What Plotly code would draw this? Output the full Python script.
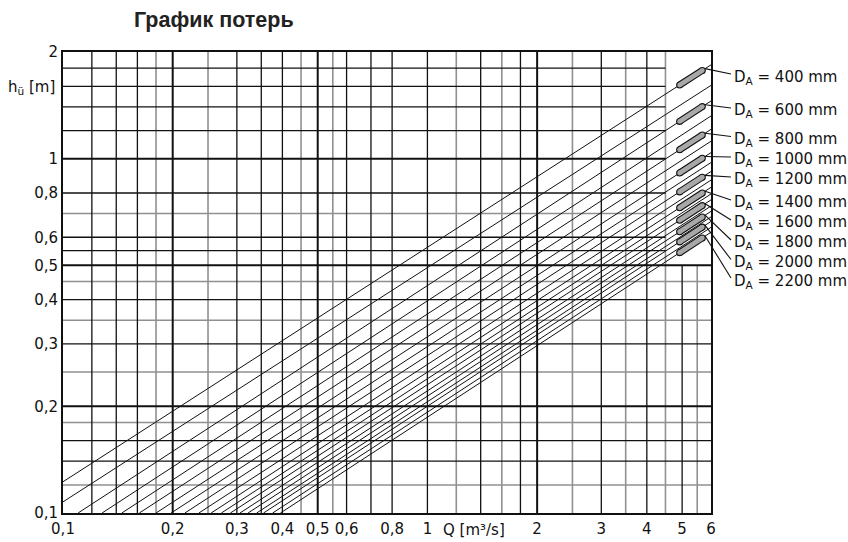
import math
import plotly.graph_objects as go

# ---- data -------------------------------------------------------------
# outlet diameters D_A [mm], one head line for every 100 mm
diameters = [400, 500, 600, 700, 800, 900, 1000, 1100, 1200, 1300,
             1400, 1500, 1600, 1700, 1800, 1900, 2000, 2100, 2200]
# diameters that carry a pipe symbol and a label
labelled = [400, 600, 800, 1000, 1200, 1400, 1600, 1800, 2000, 2200]
# each head line is straight on log-log paper: point where it enters the grid ...
q_start = [0.1, 0.1, 0.11, 0.128, 0.145, 0.162, 0.18, 0.198, 0.216, 0.236,
           0.255, 0.272, 0.288, 0.306, 0.322, 0.34, 0.355, 0.376, 0.395]
h_start = [0.1225, 0.1075, 0.1, 0.1, 0.1, 0.1, 0.1, 0.1, 0.1, 0.1,
           0.1, 0.1, 0.1, 0.1, 0.1, 0.1, 0.1, 0.1, 0.1]
# ... and where it leaves it at Q = 6 m3/s
q_end = [6] * 19
h_end = [1.84, 1.61, 1.455, 1.32, 1.21, 1.12, 1.04, 0.975, 0.92, 0.87,
         0.83, 0.795, 0.765, 0.735, 0.71, 0.685, 0.665, 0.64, 0.62]

# axis ticks
x_ticks = [0.1, 0.2, 0.3, 0.4, 0.5, 0.6, 0.8, 1, 2, 3, 4, 5, 6]
x_ticktext = ["0,1", "0,2", "0,3", "0,4", "0,5", "0,6", "0,8", "1", "2", "3", "4", "5", "6"]
y_ticks = [0.1, 0.2, 0.3, 0.4, 0.5, 0.6, 0.8, 1, 2]
y_ticktext = ["0,1", "0,2", "0,3", "0,4", "0,5", "0,6", "0,8", "1", "2"]

# grid of the log paper
v_grid_black = [0.12, 0.14, 0.16, 0.3, 0.35, 0.4, 0.6, 0.7, 0.8, 1, 1.4, 1.8, 3, 4]
v_grid_gray = [0.18, 0.25, 0.45, 0.55, 1.2, 1.6, 2.5, 3.5, 4.5]
v_grid_bold = [0.2, 0.5, 2]
v_grid_short_black = [5]      # only in the lower part
v_grid_short_gray = [5.5]
h_grid_black = [0.14, 0.16, 0.3, 0.4]
h_grid_gray = [0.12, 0.18, 0.25, 0.35, 0.45]
h_grid_bold = [0.2, 0.5]
h_grid_upper_black = [0.55, 0.6, 0.8, 1.2, 1.4, 1.6, 1.8]   # stop at Q = 4.5
h_grid_upper_gray = [0.7]
h_grid_upper_bold = [1]

Q_MIN, Q_MAX = 0.1, 6.0
H_MIN, H_MAX = 0.1, 2.0
Q_SPLIT, H_SPLIT = 4.5, 0.5

# ---- figure geometry --------------------------------------------------
W, H = 848, 542
L, R, T, B = 63, 137, 52, 29
PW, PH = W - L - R, H - T - B
LX0, LX1 = math.log10(Q_MIN), math.log10(Q_MAX)
LY0, LY1 = math.log10(H_MIN), math.log10(H_MAX)
FONT = "DejaVu Sans"


def px_x(px):
    return (px - L) / PW


def px_y(py):
    return (H - B - py) / PH


def paper_x(q):
    return (math.log10(q) - LX0) / (LX1 - LX0)


def paper_y(h):
    return (math.log10(h) - LY0) / (LY1 - LY0)


def on_line(i, q):
    """head of line i at flow q (straight line in log-log)"""
    lq0, lq1 = math.log10(q_start[i]), math.log10(q_end[i])
    lh0, lh1 = math.log10(h_start[i]), math.log10(h_end[i])
    t = (math.log10(q) - lq0) / (lq1 - lq0)
    return 10 ** (lh0 + t * (lh1 - lh0))


fig = go.Figure()


def add_segments(xs, ys, color, width):
    fig.add_trace(go.Scatter(x=xs, y=ys, mode="lines",
                             line=dict(color=color, width=width),
                             hoverinfo="skip", showlegend=False))


def vlines(vals, h0, h1):
    xs, ys = [], []
    for v in vals:
        xs += [v, v, None]
        ys += [h0, h1, None]
    return xs, ys


def hlines(vals, q0, q1):
    xs, ys = [], []
    for v in vals:
        xs += [q0, q1, None]
        ys += [v, v, None]
    return xs, ys


GRAY = "#909090"
BLACK = "#111111"

# gray grid lines first, black ones on top
add_segments(*vlines(v_grid_gray, H_MIN, H_MAX), GRAY, 1.6)
add_segments(*vlines(v_grid_short_gray, H_MIN, H_SPLIT), GRAY, 1.6)
add_segments(*hlines(h_grid_gray, Q_MIN, Q_MAX), GRAY, 1.6)
add_segments(*hlines(h_grid_upper_gray, Q_MIN, Q_SPLIT), GRAY, 1.6)

add_segments(*vlines(v_grid_black, H_MIN, H_MAX), BLACK, 1.3)
add_segments(*vlines(v_grid_short_black, H_MIN, H_SPLIT), BLACK, 1.3)
add_segments(*hlines(h_grid_black, Q_MIN, Q_MAX), BLACK, 1.3)
add_segments(*hlines(h_grid_upper_black, Q_MIN, Q_SPLIT), BLACK, 1.3)

add_segments(*vlines(v_grid_bold, H_MIN, H_MAX), BLACK, 2)
add_segments(*hlines(h_grid_bold, Q_MIN, Q_MAX), BLACK, 2)
add_segments(*hlines(h_grid_upper_bold, Q_MIN, Q_SPLIT), BLACK, 2)

# head lines for every diameter
for i, d in enumerate(diameters):
    fig.add_trace(go.Scatter(
        x=[q_start[i], q_end[i]], y=[h_start[i], h_end[i]], mode="lines",
        line=dict(color=BLACK, width=1), name=f"D_A = {d} mm",
        showlegend=False))

# pipe symbols on the labelled lines near the right edge
CAP_Q0, CAP_Q1 = 4.92, 5.68
for d in labelled:
    i = diameters.index(d)
    cx = [CAP_Q0, CAP_Q1]
    cy = [on_line(i, CAP_Q0), on_line(i, CAP_Q1)]
    fig.add_trace(go.Scatter(x=cx, y=cy, mode="lines+markers",
                             line=dict(color=BLACK, width=7),
                             marker=dict(color=BLACK, size=7),
                             cliponaxis=False, hoverinfo="skip", showlegend=False))
    fig.add_trace(go.Scatter(x=cx, y=cy, mode="lines+markers",
                             line=dict(color="#a8a8a8", width=4.8),
                             marker=dict(color="#a8a8a8", size=4.8),
                             cliponaxis=False, hoverinfo="skip", showlegend=False))

# labels with leader lines
label_rows = [74, 108, 136.5, 157, 177, 200, 220, 240, 259.5, 278]
LEADER_Q = 5.78
LABEL_X = 731
shapes = []
annotations = []
for k, d in enumerate(labelled):
    i = diameters.index(d)
    x0 = paper_x(LEADER_Q)
    y0 = paper_y(on_line(i, LEADER_Q))
    shapes.append(dict(type="line", xref="paper", yref="paper",
                       x0=x0, y0=y0, x1=px_x(LABEL_X), y1=px_y(label_rows[k]),
                       line=dict(color=BLACK, width=1.1)))
    annotations.append(dict(xref="paper", yref="paper",
                            x=px_x(LABEL_X + 1), y=px_y(label_rows[k] + 3),
                            xanchor="left", yanchor="middle", showarrow=False,
                            text=f"D<sub>A</sub> = {d} mm",
                            font=dict(family=FONT, size=15, color=BLACK)))

annotations.append(dict(xref="paper", yref="paper", x=px_x(132), y=px_y(20),
                        xanchor="left", yanchor="middle", showarrow=False,
                        text="<b>График потерь</b>",
                        font=dict(family="Liberation Sans", size=21.5, color="#222222")))
annotations.append(dict(xref="paper", yref="paper", x=px_x(57), y=px_y(88),
                        xanchor="right", yanchor="middle", showarrow=False,
                        text="h<sub>ü</sub> [m]",
                        font=dict(family=FONT, size=15, color=BLACK)))
annotations.append(dict(xref="paper", yref="paper", x=px_x(474), y=px_y(541),
                        xanchor="center", yanchor="bottom", showarrow=False,
                        text="Q [m³/s]",
                        font=dict(family=FONT, size=15, color=BLACK)))

tickfont = dict(family=FONT, size=15, color=BLACK)
fig.update_layout(
    width=W, height=H, autosize=False,
    margin=dict(l=L, r=R, t=T, b=B, pad=0),
    paper_bgcolor="white", plot_bgcolor="white",
    shapes=shapes, annotations=annotations,
    xaxis=dict(type="log", range=[LX0, LX1], tickvals=x_ticks, ticktext=x_ticktext,
               showgrid=False, zeroline=False, ticks="", ticklabelstandoff=1,
               showline=True, mirror=True, linecolor=BLACK, linewidth=2,
               tickfont=tickfont, automargin=False),
    yaxis=dict(type="log", range=[LY0, LY1], tickvals=y_ticks, ticktext=y_ticktext,
               showgrid=False, zeroline=False, ticks="", ticklabelstandoff=0,
               showline=True, mirror=True, linecolor=BLACK, linewidth=2,
               tickfont=tickfont, automargin=False),
)

fig.write_html("out.html")
